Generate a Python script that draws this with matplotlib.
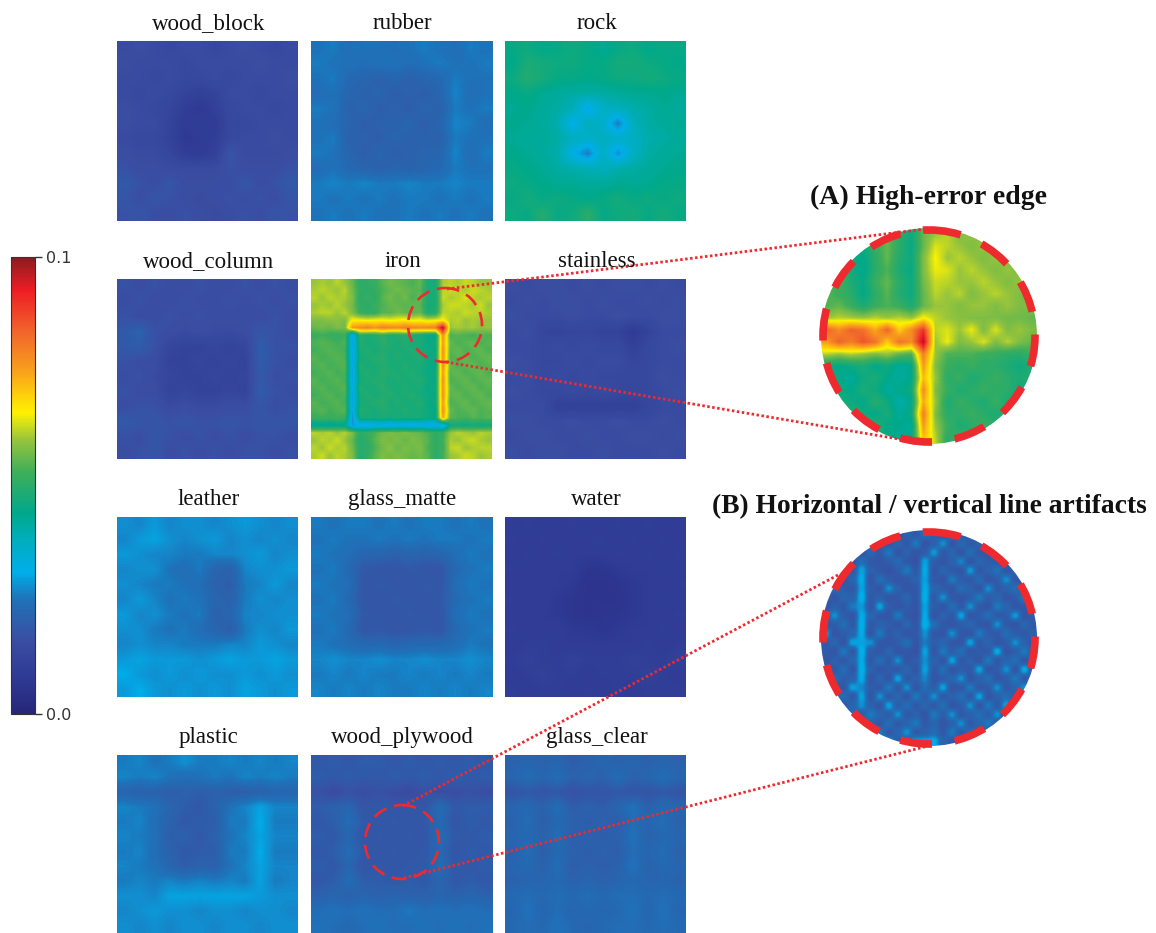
import numpy as np
import matplotlib
matplotlib.use("Agg")
import matplotlib.pyplot as plt
from matplotlib.colors import LinearSegmentedColormap, Normalize
from matplotlib.cm import ScalarMappable
from matplotlib.patches import Circle

# error maps, values in units of 0.001
wood_block = [
    [15,16,15,14,15,15,14,15,16,15,14,15],
    [16,15,15,15,14,15,15,15,15,16,15,15],
    [15,15,14,15,14,14,15,14,15,15,15,16],
    [15,14,15,14,12,11,12,15,15,14,15,15],
    [16,15,14,13,10,8,11,14,15,15,14,15],
    [16,15,15,12,9,10,9,14,14,15,15,15],
    [15,14,14,12,8,9,10,14,15,15,16,15],
    [16,15,15,13,10,9,11,18,15,15,15,16],
    [17,16,16,15,15,15,15,17,16,16,16,17],
    [19,17,16,18,16,16,16,16,18,16,17,19],
    [18,16,18,17,16,15,16,17,16,17,16,18],
    [17,18,16,16,17,16,15,16,17,16,18,17],
]
rubber = [
    [25,26,24,25,25,24,25,26,25,24,26,25],
    [26,25,25,24,25,25,24,25,26,25,25,26],
    [25,26,23,22,21,22,21,22,23,26,25,25],
    [24,25,22,21,22,20,21,20,22,27,24,25],
    [26,25,21,22,20,21,20,22,21,26,25,26],
    [25,24,22,20,21,21,22,20,22,27,26,24],
    [25,26,21,21,20,22,21,21,21,26,25,25],
    [26,25,22,20,22,20,21,22,22,27,24,26],
    [24,25,23,22,21,22,21,22,23,26,25,25],
    [26,27,26,27,26,26,27,26,26,27,26,26],
    [26,25,26,25,26,25,26,26,25,26,25,26],
    [25,26,25,26,25,25,26,25,26,25,26,25],
]
rock = [
    [45,46,44,45,46,45,43,45,46,44,45,45],
    [44,48,47,46,46,45,45,47,47,46,45,44],
    [46,49,47,45,45,44,45,46,46,47,46,45],
    [44,45,43,42,41,41,41,42,43,43,44,43],
    [43,44,42,41,39,30,37,38,40,41,43,42],
    [44,43,42,40,31,38,36,26,38,41,42,43],
    [43,42,42,41,38,36,38,36,37,40,41,42],
    [44,43,42,40,32,26,37,28,37,41,42,43],
    [45,44,43,41,40,39,38,40,41,42,43,44],
    [46,45,44,43,43,42,42,43,43,43,45,45],
    [45,47,45,46,45,44,45,47,45,46,45,46],
    [46,45,49,45,46,50,45,46,47,45,47,45],
]
wood_column = [
    [17,16,17,16,16,17,16,16,17,16,17,16],
    [16,17,16,16,17,16,16,17,16,17,16,17],
    [17,16,16,17,16,17,16,16,16,16,17,16],
    [19,21,17,16,15,16,15,15,16,18,17,16],
    [19,20,17,13,12,12,13,12,13,20,17,17],
    [17,16,16,12,12,13,12,13,12,20,17,16],
    [16,17,15,13,12,12,13,12,13,19,16,17],
    [17,16,16,12,13,12,12,13,12,20,17,16],
    [16,17,17,15,16,15,15,16,16,18,16,17],
    [19,18,18,17,18,17,17,18,17,18,18,18],
    [17,16,18,17,16,17,16,17,16,17,17,16],
    [16,17,18,16,17,16,17,16,17,17,16,17],
]
stainless = [
    [16,15,16,16,15,16,15,16,16,15,16,15],
    [15,16,15,16,16,15,16,15,15,16,15,16],
    [16,15,15,15,16,15,15,16,15,15,16,16],
    [15,16,13,12,13,13,12,12,9,12,15,15],
    [15,15,14,15,14,15,14,14,11,14,15,16],
    [16,15,14,14,15,14,15,15,13,14,15,15],
    [15,16,14,15,14,15,14,14,14,14,16,15],
    [16,15,14,14,15,14,15,14,14,14,15,16],
    [15,15,15,11,11,11,11,11,11,13,15,15],
    [16,16,15,15,16,15,15,16,15,15,16,15],
    [15,16,16,15,15,16,15,15,16,16,15,16],
    [16,15,16,16,15,15,16,15,15,15,16,15],
]
leather = [
    [28,27,29,27,28,28,27,28,29,28,27,28],
    [27,29,30,28,27,28,29,27,28,27,28,27],
    [29,28,27,27,26,26,27,27,28,29,27,28],
    [27,28,28,25,24,26,22,21,27,28,28,29],
    [28,27,26,26,25,24,21,20,26,27,29,27],
    [27,29,27,25,26,25,22,21,26,28,27,28],
    [29,27,28,26,25,26,21,22,27,27,28,28],
    [28,28,26,25,26,24,22,20,26,28,27,29],
    [27,28,27,27,26,26,26,27,27,29,28,27],
    [29,30,29,29,29,28,29,30,29,29,30,29],
    [31,29,28,29,28,29,28,28,29,28,29,28],
    [29,31,29,28,29,28,29,28,30,29,28,29],
]
glass_matte = [
    [26,25,26,26,25,26,25,26,26,25,26,25],
    [25,26,25,25,26,25,26,25,26,26,25,26],
    [26,25,24,22,22,21,22,21,22,24,26,25],
    [25,26,23,19,18,18,19,18,18,23,25,26],
    [26,25,24,18,19,18,18,19,18,24,26,25],
    [25,26,23,18,18,19,18,18,19,23,25,26],
    [26,25,24,19,18,18,19,18,18,24,26,25],
    [25,26,23,18,19,18,18,19,18,23,25,26],
    [26,25,24,23,23,22,23,23,23,24,26,25],
    [27,28,27,27,28,27,27,28,27,27,28,27],
    [26,27,26,27,26,26,27,26,27,26,27,26],
    [27,26,27,26,27,26,26,27,26,27,26,27],
]
water = [
    [9,10,9,9,10,9,9,10,9,10,9,9],
    [10,9,10,9,9,10,10,9,10,9,10,9],
    [9,10,9,10,9,9,9,10,9,10,9,10],
    [10,9,9,9,9,7,7,8,9,9,10,9],
    [9,10,9,9,8,6,6,7,8,9,9,10],
    [10,9,10,8,7,6,6,6,8,9,10,9],
    [9,10,9,8,7,6,7,7,8,9,9,10],
    [10,9,9,10,8,8,7,8,9,9,10,9],
    [9,10,10,9,9,9,9,9,9,10,9,10],
    [10,11,10,10,11,10,10,10,11,10,10,11],
    [9,10,11,10,10,9,10,10,10,11,10,9],
    [10,9,10,10,9,10,9,10,9,10,10,10],
]
plastic = [
    [26,27,25,26,28,26,26,27,26,27,26,27],
    [27,26,27,25,24,25,26,25,27,26,27,26],
    [22,21,21,20,21,20,21,20,20,21,22,22],
    [27,26,25,22,20,19,21,25,27,30,27,27],
    [26,27,24,21,19,20,20,26,26,31,26,26],
    [27,26,25,20,21,19,21,25,27,30,27,27],
    [26,27,24,21,19,20,20,26,26,31,26,26],
    [27,26,25,22,20,21,21,25,27,30,27,27],
    [26,27,26,27,26,27,26,27,26,30,26,27],
    [28,28,27,30,30,30,30,30,30,29,28,28],
    [27,28,29,28,28,27,28,28,27,28,28,27],
    [28,27,28,27,28,28,27,28,28,27,28,28],
]
wood_plywood = [
    [19,20,19,20,20,19,20,19,20,19,20,19],
    [20,19,20,19,19,20,19,20,19,20,19,20],
    [17,15,17,16,17,16,15,17,16,16,17,16],
    [20,21,22,18,19,18,19,18,24,19,20,20],
    [19,20,24,19,18,19,18,19,23,18,20,19],
    [20,19,22,18,19,18,19,18,24,19,19,20],
    [19,20,24,19,18,19,18,19,23,18,20,19],
    [20,19,22,18,19,18,19,19,24,19,19,20],
    [19,20,24,20,20,19,20,19,22,19,20,19],
    [21,22,21,22,21,22,21,21,22,21,22,21],
    [24,25,24,25,24,24,26,24,25,24,25,24],
    [25,24,23,24,25,24,24,25,24,25,24,25],
]
glass_clear = [
    [21,22,21,22,20,21,22,21,22,21,22,21],
    [22,24,22,24,21,22,21,24,21,22,24,22],
    [18,19,18,19,17,18,18,19,18,18,19,18],
    [22,23,21,24,20,21,20,22,25,21,23,22],
    [21,24,20,23,21,20,21,20,24,22,24,21],
    [22,23,21,24,20,21,20,21,25,21,23,22],
    [21,24,20,23,21,20,21,20,24,22,24,21],
    [22,23,21,24,20,21,20,21,25,21,23,22],
    [21,22,22,23,21,22,21,22,23,22,22,21],
    [23,24,23,24,23,24,23,24,24,23,24,23],
    [22,25,22,24,22,23,22,23,25,22,25,22],
    [23,24,23,25,23,22,23,24,24,23,24,23],
]
iron = [
    [60,61,60,62,60,56,50,51,52,55,57,56,55,54,56,48,47,61,62,61,63,62,60,60],
    [61,62,61,60,62,57,51,50,51,54,56,57,56,55,55,47,48,62,63,62,61,63,62,61],
    [62,60,62,61,61,58,50,52,50,55,57,55,57,54,56,48,47,63,61,62,64,62,61,62],
    [60,61,60,62,60,57,51,50,52,54,56,56,55,56,55,47,48,61,63,63,62,61,63,60],
    [61,62,62,60,62,58,52,51,51,55,55,57,56,55,56,48,49,62,62,61,63,62,62,61],
    [58,58,59,59,58,66,66,65,66,66,65,66,67,65,66,64,65,66,61,62,60,61,60,60],
    [56,57,56,58,57,76,78,80,77,80,79,78,80,79,78,79,80,97,60,61,60,61,59,60],
    [52,53,52,51,53,30,50,48,49,51,48,49,50,48,47,45,44,78,54,55,54,53,55,54],
    [54,55,54,53,54,30,49,47,48,50,49,47,49,47,48,45,46,76,56,54,55,56,54,55],
    [53,54,55,54,53,31,48,49,47,49,48,48,48,49,47,46,45,78,55,56,54,55,56,54],
    [55,53,54,55,54,30,47,48,49,50,47,49,47,48,49,45,46,77,54,55,56,54,55,56],
    [54,55,53,54,55,31,49,47,48,49,48,47,49,47,48,46,44,78,56,54,55,56,54,55],
    [53,54,55,53,54,30,48,49,47,50,49,48,48,49,47,45,46,76,55,56,54,55,56,54],
    [55,53,54,55,53,30,47,48,49,49,47,49,47,48,49,46,45,78,54,55,56,54,55,56],
    [54,55,53,54,55,31,49,47,48,50,48,47,49,47,48,45,46,77,56,54,55,56,54,55],
    [53,54,55,53,54,30,48,49,47,49,49,48,48,49,47,46,45,78,55,56,54,55,56,54],
    [55,53,54,55,53,30,47,48,49,50,47,49,47,48,49,45,46,76,54,55,56,54,55,56],
    [54,55,53,54,55,31,49,48,47,49,48,47,49,47,48,46,44,78,56,54,55,56,54,55],
    [52,53,52,53,52,28,47,48,47,48,47,48,47,48,47,46,45,75,55,54,53,55,54,55],
    [42,43,42,44,43,29,31,30,32,31,30,32,31,30,32,30,31,30,46,47,46,47,46,47],
    [62,61,62,60,62,58,50,52,54,57,58,57,58,57,56,54,51,52,60,62,61,60,62,61],
    [60,62,61,63,60,56,49,51,55,58,57,58,56,58,57,55,50,53,61,60,62,63,61,60],
    [62,60,63,61,62,57,50,50,54,57,59,56,58,57,58,54,51,52,62,63,60,61,62,62],
    [61,63,60,62,61,58,49,51,55,58,57,58,57,56,57,55,50,53,60,61,63,62,60,61],
]
# magnified crops shown in the two big circles
detail_a = [
    [56,57,52,50,54,56,50,46,56,60,62,58,60,58,56,56,58,56],
    [55,54,48,46,52,56,50,45,56,64,62,60,58,60,58,56,57,58],
    [56,52,46,44,50,56,49,46,58,66,60,62,60,58,60,58,56,58],
    [54,53,47,43,50,54,48,45,58,65,64,60,62,60,58,60,58,56],
    [53,54,48,45,52,56,50,46,57,63,62,60,60,62,60,58,60,58],
    [55,52,50,44,50,55,49,46,56,62,60,62,58,60,62,60,58,56],
    [54,56,52,48,52,54,52,48,56,60,60,58,60,60,58,60,58,58],
    [60,62,61,60,62,60,62,60,66,62,60,59,58,58,58,57,57,56],
    [84,78,84,82,74,84,70,78,90,62,64,60,65,58,64,58,60,58],
    [76,84,80,86,82,70,82,78,98,60,65,58,60,64,58,62,58,56],
    [62,60,62,60,58,60,56,54,80,60,54,54,54,52,52,50,50,52],
    [46,44,46,48,44,46,42,44,76,58,52,50,52,50,50,48,46,48],
    [48,44,42,46,48,44,42,44,72,60,50,52,48,50,52,50,48,50],
    [44,46,44,48,46,42,44,46,78,58,52,48,50,52,50,50,46,48],
    [46,48,46,44,50,46,40,44,74,60,48,52,50,48,52,48,50,50],
    [48,44,50,46,44,48,42,46,80,58,50,50,52,50,48,50,48,50],
    [46,50,46,48,50,44,44,42,76,60,52,48,50,52,50,50,50,48],
    [50,48,50,46,48,46,42,44,72,62,50,52,48,50,52,48,50,50],
]
detail_b = [
    [20,18,22,19,26,18,30,19,17,21,19,24,20,18,26,19,22,17,20,23,18,20,19,18],
    [18,22,19,24,20,30,21,18,22,19,26,18,21,28,18,23,19,21,26,18,22,19,21,20],
    [21,19,17,20,18,22,19,26,18,21,18,20,29,19,22,18,24,19,18,28,19,17,20,19],
    [19,23,21,18,24,19,18,20,23,19,17,30,20,18,21,27,18,22,20,19,24,20,18,21],
    [18,20,26,19,30,21,19,17,20,26,19,31,18,22,19,18,29,19,21,25,18,22,20,19],
    [22,19,18,22,31,18,24,20,18,19,21,30,19,18,26,20,19,23,18,20,28,19,18,21],
    [19,24,20,19,30,20,18,28,21,18,19,31,22,20,18,24,21,18,28,19,21,24,19,18],
    [20,18,22,21,32,19,21,18,19,22,18,32,19,28,19,18,20,26,20,22,18,20,26,19],
    [18,21,19,26,29,18,30,20,18,20,18,30,20,18,24,19,28,19,18,26,22,18,19,22],
    [21,28,20,18,31,22,19,18,26,19,17,31,18,21,19,30,18,20,24,19,20,29,18,20],
    [19,20,24,19,32,19,21,20,18,22,18,32,24,19,18,20,22,19,18,28,19,18,22,19],
    [30,18,20,22,31,18,26,19,21,18,19,28,19,18,28,19,18,26,20,19,24,20,19,21],
    [19,22,18,30,30,28,19,18,20,24,18,26,20,22,19,18,30,19,22,18,20,28,21,18],
    [20,18,26,19,32,20,18,22,18,19,17,30,18,26,20,24,18,20,19,31,18,20,26,19],
    [18,21,19,22,31,19,24,19,28,18,20,28,21,18,30,19,21,18,26,19,22,24,18,22],
    [21,19,24,18,32,21,18,20,19,22,18,30,19,24,18,20,19,30,18,20,28,18,31,19],
    [19,24,20,21,31,18,22,18,30,19,21,27,18,20,22,28,18,21,24,18,20,26,19,21],
    [22,18,19,30,27,20,19,26,19,28,18,24,20,30,18,19,26,19,20,28,19,22,28,18],
    [19,21,24,19,30,18,28,19,22,18,26,20,28,19,21,24,19,30,18,21,24,19,20,22],
    [18,26,19,22,28,21,18,30,20,24,19,22,19,24,18,20,28,18,26,19,30,21,24,19],
    [21,19,22,24,20,26,22,20,28,19,21,18,26,20,28,19,21,24,20,28,19,24,19,21],
    [19,28,20,18,28,22,19,24,19,22,26,19,22,18,21,28,19,22,26,19,22,18,26,19],
    [20,19,24,22,19,20,26,19,22,28,19,21,24,19,26,19,24,19,21,24,19,22,19,20],
    [19,21,19,26,22,19,21,28,20,19,30,30,31,22,19,21,20,26,19,22,20,19,21,19],
]

titles = ["wood_block", "rubber", "rock",
          "wood_column", "iron", "stainless",
          "leather", "glass_matte", "water",
          "plastic", "wood_plywood", "glass_clear"]
maps = [wood_block, rubber, rock,
        wood_column, iron, stainless,
        leather, glass_matte, water,
        plastic, wood_plywood, glass_clear]

W, H = 1156, 933
col_x = [117, 311, 505]
row_y = [41, 279, 517, 755]
panel_w, panel_h = 181, 180
red = "#ee2a2e"

cmap = LinearSegmentedColormap.from_list("err", [
    (0.00, "#26267a"), (0.08, "#2f3a94"), (0.16, "#3a4ea2"), (0.25, "#1f72b8"),
    (0.31, "#00aeea"), (0.38, "#00aebd"), (0.44, "#00a98a"), (0.53, "#3fae5a"),
    (0.60, "#96c43d"), (0.66, "#fff200"), (0.75, "#f9a11b"), (0.83, "#f26a2c"),
    (0.93, "#ed1c24"), (1.00, "#8a1c20")])
norm = Normalize(0, 0.1)


def px_axes(x, y, w, h):
    return fig.add_axes([x / W, 1 - (y + h) / H, w / W, h / H])


fig = plt.figure(figsize=(W / 100, H / 100), dpi=100)
plt.rcParams["font.family"] = "Liberation Serif"

for i, name in enumerate(titles):
    r, c = i // 3, i % 3
    h = panel_h if r < 3 else H - row_y[r]
    ax = px_axes(col_x[c], row_y[r], panel_w, h)
    ax.imshow(np.array(maps[i]) / 1000, cmap=cmap, norm=norm, aspect="auto",
              interpolation="bilinear")
    ax.axis("off")

# colorbar
cax = px_axes(11, 257, 24, 457)
cb = fig.colorbar(ScalarMappable(norm=norm, cmap=cmap), cax=cax, ticks=[0, 0.1])
cb.ax.set_yticklabels(["0.0", "0.1"], family="DejaVu Sans", fontsize=11.5, color="#333333")
cb.ax.tick_params(length=5, width=1, color="#333333", pad=3)
cb.outline.set_edgecolor("#333333")

# magnified circles
for data, cy, interp in [(detail_a, 336, "bilinear"), (detail_b, 638, "hanning")]:
    ax = px_axes(929 - 108, cy - 108, 216, 216)
    im = ax.imshow(np.array(data) / 1000, cmap=cmap, norm=norm, aspect="auto",
                   interpolation=interp)
    im.set_clip_path(Circle((0.5, 0.5), 0.5, transform=ax.transAxes))
    ax.axis("off")

# overlay in pixel coordinates for labels and callouts
ov = fig.add_axes([0, 0, 1, 1])
ov.set_xlim(0, W)
ov.set_ylim(H, 0)
ov.axis("off")
ov.patch.set_alpha(0)

for i, name in enumerate(titles):
    r, c = i // 3, i % 3
    ov.text(col_x[c] + panel_w / 2 + 1, row_y[r] - 12, name, ha="center", va="baseline",
            fontsize=16.5, color="#111111")

ov.text(929, 204, "(A) High-error edge", ha="center", va="baseline",
        fontsize=20, fontweight="bold", color="#111111")
ov.text(929, 513, "(B) Horizontal / vertical line artifacts", ha="center", va="baseline",
        fontsize=19.8, fontweight="bold", color="#111111")

for cx, cy in [(929, 336), (929, 638)]:
    ov.add_patch(Circle((cx, cy), 106, fill=False, ec=red, lw=5.5,
                        ls=(0, (4.2, 3.0))))
for cx, cy in [(445, 325), (402, 842)]:
    ov.add_patch(Circle((cx, cy), 37, fill=False, ec=red, lw=1.9,
                        ls=(0, (5.5, 3.0))))

callouts = [((447, 289), (925, 229)), ((446, 362), (928, 444)),
            ((403, 806), (838, 575)), ((404, 878), (928, 746))]
for p, q in callouts:
    ov.plot([p[0], q[0]], [p[1], q[1]], color=red, lw=2, ls=(0, (0.9, 0.9)))

fig.savefig("out.png", dpi=100)
